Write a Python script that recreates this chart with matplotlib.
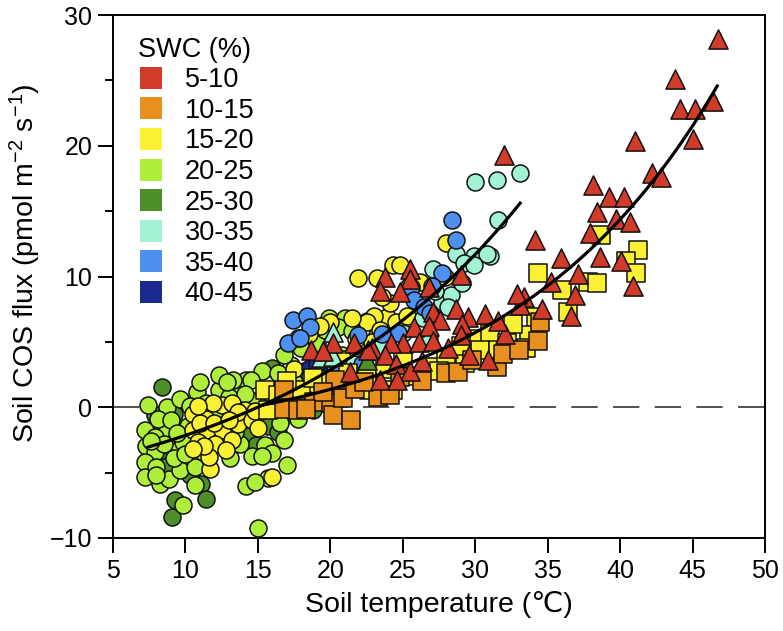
import numpy as np
import matplotlib
matplotlib.use("Agg")
import matplotlib.pyplot as plt
from matplotlib.lines import Line2D
from matplotlib.ticker import MultipleLocator

plt.rcParams['font.family'] = ['Liberation Sans', 'DejaVu Sans']
plt.rcParams['mathtext.fontset'] = 'custom'
plt.rcParams['mathtext.rm'] = 'Liberation Sans'
plt.rcParams['mathtext.it'] = 'Liberation Sans'
plt.rcParams['lines.scale_dashes'] = False

# SWC classes and colours
swc_labels = ['5-10', '10-15', '15-20', '20-25', '25-30', '30-35', '35-40', '40-45']
swc_colors = ['#D13B2A', '#E8901F', '#FAF034', '#B0EE3C', '#4E8F2A', '#A2F2D4', '#4D90F0', '#1A2A8E']

# --- circles (soil temperature, COS flux) per SWC class ---
circ_25_30 = [(8.35, 1.55), (7.9, -0.6), (9.2, -0.5), (11.1, -5.85), (11.45, -7.0), (9.3, -7.1),
              (9.05, -8.4), (14.45, -2.1), (15.7, -1.4), (16.4, -1.9), (8.4, -1.8), (8.1, -3.8),
              (8.7, -4.5), (10.3, -5.2), (15.2, 0.6), (16.6, 1.6), (17.5, 0.3), (18.2, 2.8),
              (19.0, 1.4), (17.0, -0.5), (14.0, -0.8), (20.0, 1.0), (21.5, 1.6), (16.0, 3.0),
              (18.8, -0.2), (12.6, 0.9), (14.9, -2.9)]
circ_20_25 = [(7.4, 0.15), (8.7, 0.0), (9.6, 0.65), (10.8, 1.2), (12.3, 1.3), (13.65, 1.4),
              (12.3, 2.45), (14.2, 2.05), (8.7, -1.6), (7.2, -1.75), (7.9, -2.3), (7.3, -3.0),
              (7.9, -3.4), (7.2, -4.2), (7.2, -5.3), (8.25, -5.85), (8.9, -5.45), (9.6, -4.8),
              (9.5, -3.3), (9.85, -2.65), (10.65, -4.55), (10.65, -5.95), (9.85, -7.5), (13.1, -3.9),
              (14.2, -6.0), (15.0, -9.2), (8.1, -0.9), (8.5, -2.8), (8.0, -4.6), (9.2, -3.9),
              (10.2, -1.4), (10.0, -3.6), (11.2, -3.4), (12.0, -0.6), (13.0, 0.8), (14.6, 0.5),
              (15.3, 2.8), (14.5, 2.1), (15.5, -2.9), (17.0, -4.4), (14.6, -3.7), (17.8, -0.9),
              (16.0, -3.5), (16.5, -1.2), (15.7, -5.4), (14.8, -5.7), (16.8, -2.5), (19.9, 6.8),
              (21.0, 6.8), (19.05, 4.9), (19.6, 5.9), (20.5, 6.1), (18.0, 4.5), (17.3, 3.2),
              (16.4, 2.6), (18.6, 2.4), (21.5, 5.8), (22.5, 6.6), (20.8, 4.0), (17.8, 5.3),
              (16.8, 4.0), (13.3, 2.1), (11.4, 0.3), (10.3, 0.1), (9.0, -1.0), (12.7, -1.3),
              (13.8, -2.8), (11.0, -2.3), (8.0, -5.2), (7.6, -2.6), (16.0, 0.9), (17.5, 1.9),
              (19.3, 2.2), (22.0, 4.7), (23.2, 5.5), (11.0, 1.9), (15.3, -3.7), (12.9, 1.9),
              (14.1, 1.0), (9.4, -2.0), (13.4, -1.9)]
circ_15_20 = [(10.55, -0.5), (11.45, -0.9), (12.5, 0.15), (13.2, 0.3), (10.55, -1.75), (11.5, -1.75),
              (12.5, -1.75), (10.9, -2.65), (12.05, -2.8), (13.2, -2.5), (13.65, -1.25), (14.1, -0.2),
              (11.7, -4.7), (11.6, -3.8), (11.0, -1.2), (12.0, -1.2), (11.3, -3.0), (12.8, -3.3),
              (13.6, -0.4), (14.6, -1.0), (10.5, -3.2), (13.0, -1.0), (11.9, 0.3), (10.9, 0.1),
              (14.8, -0.3), (16.0, -5.35), (15.0, -1.6), (21.9, 9.9), (23.2, 9.9), (24.3, 10.9),
              (24.8, 10.9), (28.0, 12.6), (23.9, 6.9), (23.0, 7.0), (22.5, 6.5), (23.4, 5.9),
              (20.0, 6.5), (21.5, 6.8), (24.5, 6.5), (25.3, 7.0), (21.8, 5.2), (19.3, 6.2),
              (18.5, 5.6), (20.9, 3.7), (22.9, 5.0), (18.9, 1.8), (17.5, 2.9), (19.7, 3.6),
              (24.1, 8.0), (26.2, 9.6), (27.9, 10.0), (23.6, 8.4), (25.4, 9.3), (24.5, 4.9),
              (22.0, 2.5)]
circ_30_35 = [(30.0, 17.2), (31.5, 17.4), (33.1, 17.9), (31.6, 14.3), (31.0, 11.6), (28.7, 11.75),
              (29.9, 11.6), (30.8, 11.75), (29.2, 11.0), (29.9, 10.9), (27.1, 10.6), (27.7, 8.05),
              (28.3, 8.6), (28.1, 7.7), (25.0, 5.7), (24.3, 4.8), (26.4, 6.8), (27.2, 8.9),
              (22.8, 4.2), (21.6, 3.3), (29.1, 9.5), (26.8, 5.4), (23.5, 4.6)]
circ_35_40 = [(28.4, 14.3), (28.7, 12.8), (27.7, 10.3), (25.6, 9.2), (25.8, 8.2), (26.5, 7.7),
              (17.45, 6.7), (18.4, 7.0), (18.6, 6.1), (17.1, 4.9), (20.3, 3.1), (21.9, 5.5),
              (24.7, 5.7), (23.6, 5.6), (26.9, 7.2), (22.2, 3.3), (17.9, 5.3), (27.0, 9.3)]
circ_40_45 = [(18.6, 3.0), (19.1, 3.3)]

# --- squares ---
sq_15_20 = [(15.5, 1.3), (15.7, -0.2), (18.0, 1.3), (19.6, 2.1), (18.8, 2.2), (22.7, 1.3),
            (26.9, 3.1), (30.1, 5.25), (31.0, 5.6), (30.3, 4.4), (28.0, 3.85), (31.6, 4.4),
            (22.5, 2.3), (24.35, 1.3), (38.7, 13.2), (41.25, 12.0), (40.4, 11.2), (41.1, 10.3),
            (34.3, 10.3), (37.8, 9.6), (38.4, 9.5), (36.0, 9.0), (36.4, 7.3), (34.2, 6.9),
            (33.7, 5.5), (33.5, 4.5), (32.6, 6.4), (17.0, 2.0), (20.8, 1.9), (23.8, 2.9),
            (25.5, 2.4), (27.5, 2.8), (29.3, 3.4), (32.2, 4.9), (16.4, 0.9), (21.2, 2.6),
            (25.0, 3.8), (29.0, 4.7)]
sq_10_15 = [(16.8, 1.3), (16.8, -0.1), (17.8, -0.2), (18.9, 0.4), (20.05, 0.3), (20.2, -0.6),
            (21.4, -1.0), (20.9, 0.7), (20.3, 2.1), (21.7, 1.4), (28.0, 2.6), (28.8, 2.7),
            (23.3, 0.8), (24.1, 0.9), (31.5, 3.1), (31.9, 4.1), (34.5, 6.5), (34.35, 5.1),
            (19.5, 1.2), (22.3, 1.9), (24.8, 2.3), (26.3, 2.0), (29.8, 3.6), (33.0, 4.4),
            (18.3, -0.1)]

# --- triangles ---
tri_5_10 = [(46.73, 28.2), (43.8, 25.1), (44.1, 22.8), (45.2, 22.8), (46.4, 23.4), (45.05, 20.5),
            (41.0, 20.4), (42.2, 17.9), (42.8, 17.6), (38.15, 17.0), (39.25, 16.1), (40.3, 16.1),
            (38.4, 14.9), (39.75, 14.4), (40.7, 14.2), (32.0, 19.3), (37.9, 13.3), (38.6, 11.5),
            (40.05, 11.2), (40.9, 9.3), (34.1, 12.8), (35.9, 11.4), (37.1, 10.2), (35.2, 9.6),
            (36.9, 8.6), (36.6, 7.0), (33.4, 8.4), (33.1, 7.8), (34.6, 7.5), (32.05, 5.6),
            (29.0, 10.1), (25.5, 10.6), (23.8, 10.0), (25.5, 9.8), (23.4, 8.9), (24.8, 8.8),
            (26.8, 9.2), (27.1, 7.3), (28.7, 7.5), (27.6, 6.65), (29.5, 6.9), (30.7, 7.1),
            (29.1, 6.4), (25.8, 6.1), (26.8, 6.2), (25.0, 4.9), (26.1, 5.0), (27.1, 5.1),
            (28.1, 4.5), (29.0, 5.5), (29.6, 4.0), (30.9, 3.6), (24.2, 4.9), (22.85, 4.5),
            (23.8, 4.0), (24.5, 3.3), (25.5, 2.8), (26.3, 3.5), (23.4, 2.1), (24.6, 2.1),
            (20.2, 4.9), (18.7, 4.35), (21.6, 4.9), (21.35, 2.7), (22.6, 4.35), (19.5, 4.3),
            (31.6, 6.6), (32.9, 8.7)]
tri_30_35 = [(20.2, 5.75), (19.35, 3.85), (20.2, 3.9)]
tri_25_30 = [(22.55, 3.65)]

# exponential fits  flux = a*exp(b*T) + c
fit_circles = dict(a=3.74, b=0.0566, c=-8.74, t0=7.4, t1=33.1)
fit_sq_tri = dict(a=1.099, b=0.069, c=-3.0, t0=15.2, t1=46.7)

fig = plt.figure(figsize=(7.83, 6.31), dpi=100)
ax = fig.add_subplot(111)
fig.subplots_adjust(left=0.1443, right=0.977, bottom=0.1474, top=0.9762)

def draw(pts, marker, color, size):
    T = [p[0] for p in pts]
    F = [p[1] for p in pts]
    ax.scatter(T, F, s=size, marker=marker, facecolor=color, edgecolor='#111111',
               linewidth=1.1, zorder=3)

ax.plot([5, 50], [0, 0], color='#222222', lw=1.1, dashes=(19, 11), zorder=1)

draw(circ_25_30, 'o', swc_colors[4], 150)
draw(circ_20_25, 'o', swc_colors[3], 150)
draw(circ_15_20, 'o', swc_colors[2], 150)
draw(circ_30_35, 'o', swc_colors[5], 150)
draw(circ_35_40, 'o', swc_colors[6], 150)
draw(circ_40_45, 'o', swc_colors[7], 150)
draw(sq_15_20, 's', swc_colors[2], 150)
draw(sq_10_15, 's', swc_colors[1], 150)
draw(tri_30_35, '^', swc_colors[5], 190)
draw(tri_25_30, '^', swc_colors[4], 190)
draw(tri_5_10, '^', swc_colors[0], 190)

for f in (fit_circles, fit_sq_tri):
    t = np.linspace(f['t0'], f['t1'], 200)
    ax.plot(t, f['a'] * np.exp(f['b'] * t) + f['c'], color='black', lw=2.3, zorder=5)

ax.set_xlim(5, 50)
ax.set_ylim(-10, 30)
ax.xaxis.set_major_locator(MultipleLocator(5))
ax.yaxis.set_major_locator(MultipleLocator(10))
ax.yaxis.set_minor_locator(MultipleLocator(5))
ax.tick_params(which='both', direction='out', width=1.4, labelsize=18, top=False, right=False)
ax.tick_params(which='major', length=11, pad=4)
ax.tick_params(which='minor', length=6)
for sp in ax.spines.values():
    sp.set_linewidth(1.4)

ax.set_xlabel('Soil temperature (\u2103)', fontsize=20.5, labelpad=6)
ax.set_ylabel('Soil COS flux (pmol m$^{-2}$ s$^{-1}$)', fontsize=20.5)
ax.yaxis.set_label_coords(-0.108, 0.525)

handles = [Line2D([], [], linestyle='none', marker='s', markersize=16, markerfacecolor=c,
                  markeredgewidth=0) for c in swc_colors]
leg = ax.legend(handles, swc_labels, loc='upper left', bbox_to_anchor=(0.01, 0.995),
                frameon=False, title='SWC (%)', fontsize=19.5, title_fontsize=19.5,
                alignment='left', handlelength=0.9, handletextpad=0.8, labelspacing=0.17,
                borderpad=0.2)

fig.savefig('out.png', dpi=100)
